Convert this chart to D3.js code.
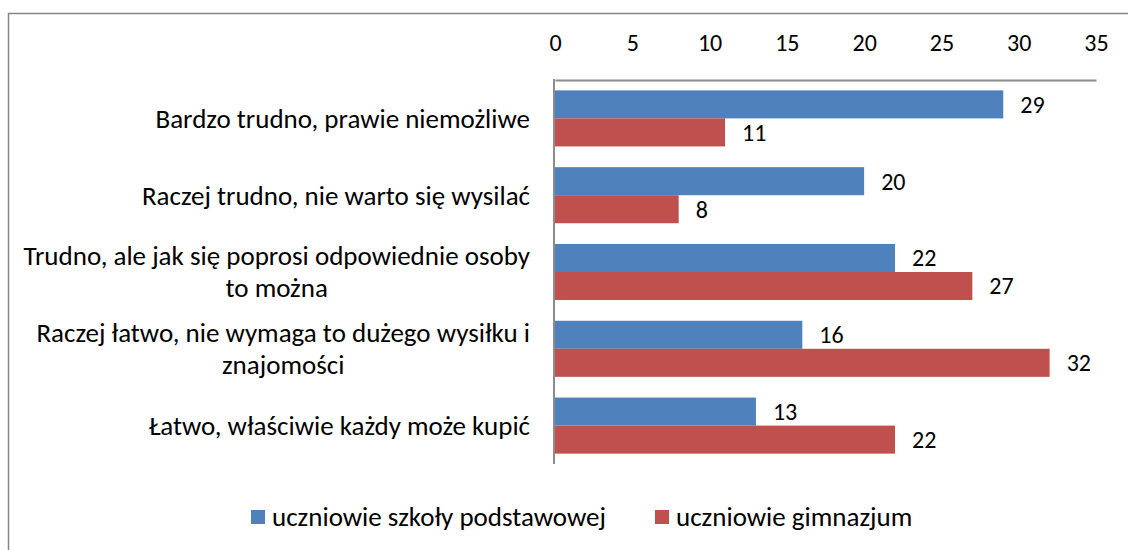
<!DOCTYPE html>
<html>
<head>
<meta charset="utf-8">
<script src="https://cdn.jsdelivr.net/npm/d3@7"></script>
<style>
  html, body { margin: 0; padding: 0; background: #fff; }
  svg { display: block; font-family: Carlito, Calibri, Lato, sans-serif; }
</style>
</head>
<body>
<div id="chart"></div>
<script>
const categories = [
  "Bardzo trudno, prawie niemożliwe",
  "Raczej trudno, nie warto się wysilać",
  "Trudno, ale jak się poprosi odpowiednie osoby|to można",
  "Raczej łatwo, nie wymaga to dużego wysiłku i|znajomości",
  "Łatwo, właściwie każdy może kupić"
];
const seriesNames = ["uczniowie szkoły podstawowej", "uczniowie gimnazjum"];
const podstawowa = [29, 20, 22, 16, 13];
const gimnazjum = [11, 8, 27, 32, 22];
const ticks = [0, 5, 10, 15, 20, 25, 30, 35];
const colors = ["#4F81BD", "#C0504D"];

const W = 1128, H = 550;
const FS_TXT = 27;   // category + legend text
const FS_NUM = 24;   // numbers

const svg = d3.select("#chart").append("svg")
  .attr("width", W).attr("height", H);

// Outer frame
svg.append("rect")
  .attr("x", 8.5).attr("y", 13.5)
  .attr("width", 1200).attr("height", 600)
  .attr("fill", "none")
  .attr("stroke", "#868686").attr("stroke-width", 1.5);

const x = d3.scaleLinear().domain([0, 35]).range([555, 1096]);
const y = d3.scaleBand().domain(d3.range(categories.length))
  .range([80, 464]).paddingInner(0.27).paddingOuter(0.135);
const sub = d3.scaleBand().domain([0, 1]).range([0, y.bandwidth()]);

// Top axis
const axis = d3.axisTop(x).tickValues(ticks).tickSize(0).tickPadding(0);
const ax = svg.append("g").attr("transform", "translate(0,80)").call(axis);
ax.select(".domain").attr("stroke", "#8c8c8c").attr("stroke-width", 2);
ax.selectAll("text")
  .attr("y", -37).attr("dy", "0.35em")
  .attr("font-size", FS_NUM).attr("fill", "#000")
  .attr("font-family", "Carlito, Calibri, Lato, sans-serif");

// Vertical category axis line
svg.append("line")
  .attr("x1", 554).attr("x2", 554)
  .attr("y1", 79).attr("y2", 464)
  .attr("stroke", "#8c8c8c").attr("stroke-width", 2);

// Bars
const series = [podstawowa, gimnazjum];
series.forEach((vals, s) => {
  svg.append("g").selectAll("rect")
    .data(vals)
    .join("rect")
    .attr("x", x(0))
    .attr("y", (d, i) => y(i) + sub(s))
    .attr("width", d => x(d) - x(0))
    .attr("height", sub.bandwidth())
    .attr("fill", colors[s]);

  svg.append("g").selectAll("text")
    .data(vals)
    .join("text")
    .attr("x", d => x(d) + 17)
    .attr("y", (d, i) => y(i) + sub(s) + sub.bandwidth() / 2)
    .attr("dy", "0.35em")
    .attr("font-size", FS_NUM)
    .attr("fill", "#000")
    .text(d => d);
});

// Category labels
categories.forEach((c, i) => {
  const lines = c.split("|");
  const cy = y(i) + y.bandwidth() / 2;
  const lh = 32;
  const g = svg.append("g");
  const texts = lines.map((ln, k) => g.append("text")
    .attr("y", cy + (k - (lines.length - 1) / 2) * lh)
    .attr("dy", "0.35em")
    .attr("font-size", FS_TXT)
    .attr("fill", "#000")
    .attr("text-anchor", "middle")
    .text(ln));
  const maxW = d3.max(texts, t => t.node().getComputedTextLength());
  texts.forEach(t => t.attr("x", 530 - maxW / 2));
});

// Legend
const legend = svg.append("g");
const legX = [251, 655];
seriesNames.forEach((n, s) => {
  legend.append("rect")
    .attr("x", legX[s]).attr("y", 510)
    .attr("width", 14).attr("height", 14)
    .attr("fill", colors[s]);
  legend.append("text")
    .attr("x", legX[s] + 21).attr("y", 517)
    .attr("dy", "0.35em")
    .attr("font-size", FS_TXT)
    .attr("fill", "#000")
    .text(n);
});
</script>
</body>
</html>
